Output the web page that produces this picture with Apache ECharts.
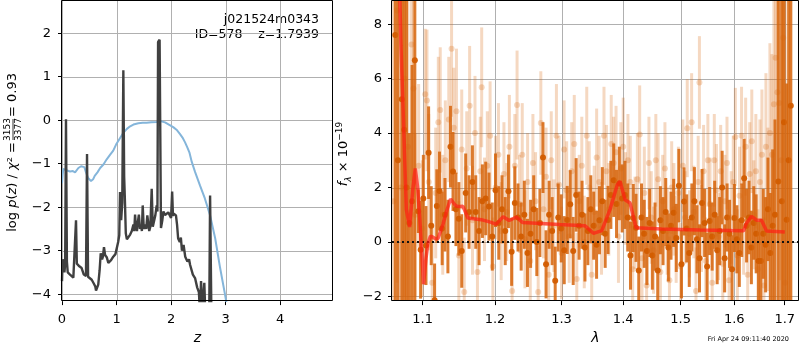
<!DOCTYPE html>
<html>
<head>
<meta charset="utf-8">
<title>redshift fit</title>
<script src="https://cdn.jsdelivr.net/npm/echarts@6/dist/echarts.min.js"></script>
<style>
  body { margin: 0; background: #fff; }
  #main { width: 800px; height: 350px; }
</style>
</head>
<body>
<div id="main"></div>
<script>
// ---------- left panel: log p(z) ----------
var zTicks = [0, 1, 2, 3, 4];
var pzTicks = [-4, -3, -2, -1, 0, 1, 2];

// [z, log p(z)]
var pzCurve = [
  [0.000,-3.70],[0.012,-3.20],[0.030,-3.30],[0.045,-3.50],[0.058,-3.30],[0.073,0.02],[0.090,-3.25],[0.105,-3.50],
  [0.147,-3.55],[0.180,-3.58],[0.208,-3.62],[0.240,-3.62],[0.257,-2.30],[0.272,-3.30],[0.300,-3.30],[0.318,-3.36],
  [0.360,-3.40],[0.400,-3.55],[0.440,-3.58],[0.459,-0.78],[0.478,-3.60],[0.510,-3.62],[0.545,-3.67],[0.580,-3.75],
  [0.610,-3.82],[0.624,-3.92],[0.645,-3.88],[0.665,-3.78],[0.690,-3.45],[0.710,-3.06],[0.735,-3.20],[0.750,-3.14],
  [0.770,-2.92],[0.790,-3.10],[0.820,-3.15],[0.850,-3.28],[0.870,-3.30],[0.900,-3.22],[0.940,-3.14],[0.980,-3.08],
  [1.000,-3.06],[1.030,-2.80],[1.050,-2.65],[1.064,-1.65],[1.085,-2.30],[1.105,-1.90],[1.125,1.15],[1.140,-1.30],
  [1.155,-1.90],[1.170,-2.60],[1.190,-2.74],[1.220,-2.70],[1.250,-2.63],[1.280,-2.55],[1.310,-2.40],[1.325,-2.55],
  [1.340,-2.17],[1.355,-2.45],[1.375,-2.55],[1.390,-2.35],[1.410,-2.17],[1.430,-2.50],[1.450,-2.40],[1.465,-2.55],
  [1.480,-1.96],[1.500,-2.50],[1.520,-2.40],[1.545,-2.50],[1.565,-2.19],[1.585,-2.40],[1.600,-2.55],[1.620,-2.45],
  [1.645,-1.58],[1.665,-2.45],[1.690,-2.42],[1.710,-2.20],[1.737,-1.96],[1.750,-2.10],[1.762,1.80],[1.790,1.85],
  [1.815,-2.48],[1.840,-2.30],[1.860,-2.10],[1.890,-2.18],[1.920,-2.14],[1.950,-2.12],[1.980,-2.10],[2.000,-2.25],
  [2.020,-1.64],[2.035,-2.20],[2.050,-2.15],[2.090,-2.19],[2.110,-2.40],[2.130,-2.72],[2.160,-2.80],[2.180,-2.70],
  [2.200,-3.00],[2.230,-2.87],[2.260,-3.14],[2.300,-3.25],[2.330,-3.20],[2.350,-3.33],[2.400,-3.55],[2.440,-3.63],
  [2.480,-3.85],[2.510,-3.95],[2.530,-4.40],[2.550,-3.70],[2.580,-4.40],[2.610,-3.74],[2.630,-4.50],[2.700,-4.50],
  [2.716,-1.73],[2.740,-4.50],[2.780,-4.80]
];

// [z, log prior]
var priorCurve = [
  [0.000,-1.45],[0.012,-1.25],[0.025,-1.12],[0.080,-1.15],[0.147,-1.18],[0.200,-1.17],[0.240,-1.20],[0.300,-1.10],
  [0.350,-1.06],[0.380,-1.03],[0.410,-1.08],[0.440,-1.20],[0.480,-1.33],[0.532,-1.40],[0.570,-1.36],[0.600,-1.28],
  [0.650,-1.20],[0.700,-1.10],[0.760,-1.02],[0.820,-0.90],[0.880,-0.80],[0.940,-0.70],[1.000,-0.54],[1.060,-0.42],
  [1.125,-0.29],[1.190,-0.20],[1.250,-0.14],[1.310,-0.10],[1.400,-0.07],[1.480,-0.06],[1.550,-0.06],[1.640,-0.05],
  [1.740,-0.04],[1.800,-0.02],[1.890,-0.05],[1.960,-0.10],[2.040,-0.16],[2.100,-0.22],[2.165,-0.32],[2.210,-0.40],
  [2.257,-0.51],[2.300,-0.63],[2.336,-0.74],[2.380,-0.96],[2.440,-1.19],[2.530,-1.50],[2.620,-1.80],[2.716,-2.19],
  [2.810,-2.72],[2.900,-3.40],[2.990,-4.01],[3.050,-4.45]
];

// ---------- right panel: spectrum ----------
var lamTicks = [1.1, 1.2, 1.3, 1.4, 1.5, 1.6, 1.7];
var fluxTicks = [-2, 0, 2, 4, 6, 8];

// [lambda, flux, err] - main spectrum
var specMain = [
  [1.0645,7.60,14],[1.0679,3.00,14],[1.0729,5.24,12],[1.0760,4.12,9],[1.0790,2.00,10],[1.0826,0.70,3.3],[1.0862,1.50,5],
  [1.0898,6.67,12],[1.0944,1.13,0.8],[1.0974,-0.28,1.8],[1.1010,1.60,1.6],[1.1045,-0.13,1.45],[1.1080,3.28,1.7],
  [1.1115,0.60,1.45],[1.1160,-2.14,1.35],[1.1190,1.32,1.35],[1.1226,1.87,1.45],[1.1262,0.50,1.35],[1.1300,1.00,1.35],
  [1.1340,0.20,1.35],[1.1375,3.50,1.5],[1.1410,2.59,1.45],[1.1450,1.20,1.35],[1.1490,0.85,1.35],[1.1530,-0.33,1.35],
  [1.1585,1.80,1.45],[1.1632,1.10,1.35],[1.1679,2.20,1.35],[1.1726,1.10,1.35],[1.1773,0.40,1.25],[1.1820,1.50,1.35],
  [1.1867,1.60,1.35],[1.1914,1.30,1.25],[1.1961,0.20,1.25],[1.2008,1.90,1.35],[1.2055,0.70,1.35],[1.2102,1.20,1.25],
  [1.2149,0.40,1.25],[1.2196,1.86,1.35],[1.2243,-0.36,1.25],[1.2290,1.43,1.35],[1.2337,0.90,1.25],[1.2384,0.20,1.25],
  [1.2431,1.00,1.25],[1.2478,-0.40,1.25],[1.2525,0.30,1.25],[1.2572,1.20,1.25],[1.2619,0.00,1.25],[1.2666,0.70,1.25],
  [1.2713,3.10,1.3],[1.2760,-0.82,1.25],[1.2807,1.00,1.25],[1.2854,0.40,1.25],[1.2901,-1.42,1.25],[1.2948,0.90,1.25],
  [1.2995,0.50,1.25],[1.3042,-0.30,1.25],[1.3089,0.81,1.25],[1.3136,1.39,1.25],[1.3183,-0.33,1.25],[1.3230,1.73,1.35],
  [1.3277,0.60,1.25],[1.3324,1.00,1.25],[1.3371,-0.20,1.25],[1.3418,0.40,1.25],[1.3465,1.20,1.25],[1.3512,0.60,1.25],
  [1.3559,-0.10,1.25],[1.3606,0.80,1.25],[1.3653,1.50,1.25],[1.3700,0.30,1.25],[1.3747,0.81,1.25],[1.3794,1.73,1.25],
  [1.3841,2.27,1.35],[1.3888,1.40,1.25],[1.3935,2.15,1.35],[1.3982,1.60,1.25],[1.4029,1.73,1.25],[1.4076,0.90,1.25],
  [1.4123,-0.50,1.25],[1.4170,0.88,1.25],[1.4217,0.52,1.25],[1.4264,-1.05,1.25],[1.4311,0.90,1.25],[1.4358,0.30,1.25],
  [1.4405,-0.33,1.25],[1.4452,0.70,1.25],[1.4499,-0.50,1.25],[1.4546,0.20,1.25],[1.4593,-1.05,1.25],[1.4640,0.80,1.25],
  [1.4687,0.40,1.25],[1.4734,1.10,1.25],[1.4781,-0.20,1.25],[1.4828,0.60,1.25],[1.4875,1.07,1.25],[1.4922,0.15,1.25],
  [1.4969,2.07,1.35],[1.5016,-0.82,1.25],[1.5063,1.49,1.25],[1.5110,0.50,1.25],[1.5157,-0.40,1.25],[1.5204,0.90,1.25],
  [1.5251,1.50,1.25],[1.5298,0.10,1.25],[1.5345,-0.60,1.25],[1.5392,1.43,1.25],[1.5439,0.70,1.25],[1.5486,-0.90,1.25],
  [1.5533,0.77,1.25],[1.5580,0.20,1.25],[1.5627,1.00,1.25],[1.5674,-0.30,1.25],[1.5721,0.40,1.25],[1.5768,2.00,1.35],
  [1.5815,-0.60,1.25],[1.5862,0.90,1.25],[1.5909,0.30,1.25],[1.5956,-1.00,1.25],[1.6003,0.88,1.25],[1.6050,0.10,1.25],
  [1.6097,-0.40,1.25],[1.6144,0.80,1.35],[1.6191,2.34,1.45],[1.6238,0.60,1.35],[1.6285,0.90,1.35],[1.6332,-0.20,1.35],
  [1.6379,0.70,1.35],[1.6426,0.30,1.45],[1.6473,-0.70,1.45],[1.6520,-0.70,1.55],[1.6567,0.30,1.65],[1.6614,-0.10,1.75],
  [1.6661,1.20,1.9],[1.6708,-0.40,2.2],[1.6755,0.60,2.8],[1.6802,1.00,3.5],[1.6870,2.22,10],[1.6940,1.50,12],
  [1.6985,4.40,14],[1.7040,0.82,5],[1.7080,3.00,14],[1.7125,5.00,14]
];

// [lambda, flux, err] - second, fainter spectrum
var specAlt = [
  [1.0622,1.50,10],[1.0668,8.50,10],[1.0715,2.00,8],[1.0762,6.00,8],[1.0808,3.50,6],[1.0855,7.25,5],[1.0880,5.64,4],
  [1.0902,1.00,3],[1.0948,2.80,3],[1.0995,0.50,2.5],[1.1035,5.43,2.4],[1.1058,5.20,2.6],[1.1082,2.20,2.5],
  [1.1128,-1.50,2.2],[1.1175,1.80,2.4],[1.1210,4.40,2.4],[1.1236,4.85,2.3],[1.1270,1.00,2.2],[1.1305,3.00,2.2],
  [1.1352,4.50,2.3],[1.1390,7.10,2.5],[1.1420,4.20,2.2],[1.1457,4.80,2.3],[1.1490,-0.50,2.0],[1.1530,3.40,2.2],
  [1.1565,-1.84,2.0],[1.1600,2.70,2.1],[1.1640,5.00,2.2],[1.1680,0.80,2.0],[1.1715,4.00,2.1],[1.1750,-1.10,1.9],
  [1.1790,2.60,2.0],[1.1810,5.68,2.2],[1.1850,1.20,1.9],[1.1890,2.80,2.0],[1.1930,3.90,2.0],[1.1970,-0.90,1.8],
  [1.2010,2.00,1.9],[1.2050,3.20,1.9],[1.2090,0.40,1.8],[1.2130,2.50,1.9],[1.2170,1.10,1.8],[1.2210,3.50,1.9],
  [1.2250,-1.80,1.8],[1.2290,2.80,1.9],[1.2323,5.03,2.0],[1.2360,1.40,1.8],[1.2400,3.20,1.9],[1.2440,0.10,1.8],
  [1.2480,2.20,1.8],[1.2520,-0.70,1.8],[1.2560,2.90,1.8],[1.2600,1.50,1.8],[1.2640,-1.84,1.7],[1.2680,4.37,1.9],
  [1.2720,1.20,1.8],[1.2760,2.40,1.8],[1.2800,-1.20,1.7],[1.2840,3.00,1.8],[1.2880,0.60,1.7],[1.2920,3.90,1.9],
  [1.2960,2.10,1.8],[1.3000,-0.40,1.7],[1.3040,3.40,1.8],[1.3080,1.90,1.8],[1.3120,0.20,1.7],[1.3160,2.60,1.8],
  [1.3200,3.60,1.8],[1.3240,-1.36,1.7],[1.3280,1.50,1.7],[1.3320,2.80,1.8],[1.3360,0.00,1.7],[1.3400,3.90,1.8],
  [1.3440,2.00,1.7],[1.3480,-1.20,1.7],[1.3520,1.10,1.7],[1.3560,3.10,1.8],[1.3600,2.20,1.7],[1.3640,0.50,1.7],
  [1.3680,3.90,1.8],[1.3720,2.60,1.7],[1.3760,1.20,1.7],[1.3800,3.60,1.8],[1.3840,2.90,1.7],[1.3880,3.30,1.7],
  [1.3920,0.20,1.7],[1.3960,2.70,1.7],[1.4000,3.50,1.8],[1.4040,1.60,1.7],[1.4080,3.00,1.7],[1.4120,2.20,1.7],
  [1.4160,-1.00,1.6],[1.4200,0.70,1.7],[1.4240,2.30,1.7],[1.4280,3.95,1.8],[1.4320,-0.60,1.6],[1.4360,1.80,1.7],
  [1.4400,-1.60,1.6],[1.4440,2.90,1.7],[1.4480,0.90,1.7],[1.4520,-0.30,1.6],[1.4560,3.00,1.7],[1.4600,2.30,1.7],
  [1.4640,-1.10,1.6],[1.4680,1.50,1.7],[1.4720,2.70,1.7],[1.4760,0.40,1.6],[1.4800,-1.40,1.6],[1.4840,2.00,1.7],
  [1.4880,1.20,1.7],[1.4920,0.10,1.6],[1.4960,1.80,1.7],[1.5000,-0.90,1.6],[1.5040,2.80,1.7],[1.5080,0.90,1.7],
  [1.5120,4.18,1.8],[1.5160,0.30,1.6],[1.5200,4.40,1.8],[1.5240,1.10,1.7],[1.5280,-1.80,1.6],[1.5320,2.20,1.7],
  [1.5343,5.86,1.7],[1.5380,0.50,1.6],[1.5420,2.60,1.7],[1.5460,-0.70,1.6],[1.5500,3.00,1.7],[1.5540,1.40,1.7],
  [1.5580,-1.50,1.6],[1.5620,3.00,1.7],[1.5660,1.90,1.7],[1.5700,0.20,1.6],[1.5740,2.60,1.7],[1.5780,-0.80,1.7],
  [1.5820,1.50,1.7],[1.5860,2.90,1.7],[1.5900,-1.40,1.7],[1.5940,0.90,1.7],[1.5980,2.20,1.7],[1.6020,3.86,1.8],
  [1.6060,-0.50,1.7],[1.6100,1.70,1.8],[1.6140,3.90,1.8],[1.6180,0.60,1.8],[1.6220,3.50,1.8],[1.6260,-1.20,1.8],
  [1.6300,2.50,1.9],[1.6340,3.70,1.9],[1.6380,1.00,2.0],[1.6420,2.60,2.1],[1.6460,-1.00,2.2],[1.6500,2.20,2.3],
  [1.6540,3.20,2.4],[1.6580,-1.60,2.5],[1.6620,3.50,2.7],[1.6660,1.20,3.0],[1.6700,4.00,3.3],[1.6740,3.20,3.7],
  [1.6780,5.06,4.2],[1.6815,6.77,4.8],[1.6850,5.50,5.5],[1.6890,5.10,6.5],[1.6930,3.00,8],[1.6970,7.50,10],
  [1.7010,-1.50,12]
];

// [lambda, flux] - best-fit model
var modelLine = [
  [1.0690,10.5],[1.0718,7.20],[1.0750,4.50],[1.0787,1.20],[1.0830,0.55],[1.0870,1.90],[1.0904,2.70],[1.0935,2.00],
  [1.0960,1.00],[1.1013,-1.55],[1.1045,-0.60],[1.1072,-0.05],[1.1105,0.22],[1.1138,0.18],[1.1170,0.12],[1.1205,0.12],
  [1.1273,0.65],[1.1330,1.20],[1.1376,1.58],[1.1420,1.42],[1.1454,1.32],[1.1500,1.30],[1.1547,1.31],[1.1616,0.88],
  [1.1803,0.82],[1.1946,0.72],[1.2018,0.65],[1.2119,0.93],[1.2207,0.79],[1.2314,0.92],[1.2403,0.72],[1.2973,0.64],
  [1.3368,0.60],[1.3409,0.52],[1.3507,0.32],[1.3644,0.42],[1.3780,1.20],[1.3901,2.10],[1.3946,2.23],[1.4031,1.55],
  [1.4116,1.43],[1.4218,0.52],[1.4663,0.48],[1.5353,0.44],[1.6179,0.41],[1.6238,0.70],[1.6335,0.94],[1.6434,0.80],
  [1.6533,0.80],[1.6633,0.40],[1.7001,0.37]
];

var lamMin = 1.0603, lamMax = 1.7294;

var FONT = 'DejaVu Sans';
var GRIDC = '#b0b0b0';

function minusSign(v) {
  return String(v).replace('-', '\u2212');
}

function crisp(v) {
  return Math.round(v) + 0.5;
}

// errorbar + dot, placed through the axis scales
function errorBars(lineColor, dotColor, lw, r) {
  return function (params, api) {
    var x = api.value(0), y = api.value(1), e = api.value(2);
    var c = api.coord([x, y]);
    var hi = api.coord([x, y + e]);
    var lo = api.coord([x, y - e]);
    return {
      type: 'group',
      children: [
        { type: 'line', shape: { x1: c[0], y1: lo[1], x2: c[0], y2: hi[1] },
          style: { stroke: lineColor, lineWidth: lw } },
        { type: 'circle', shape: { cx: c[0], cy: c[1], r: r },
          style: { fill: dotColor } }
      ]
    };
  };
}

// [x, y, 0] = vertical grid line at x, [x, y, 1] = horizontal at y, [x, y, 2] = axes frame
function gridLine(params, api) {
  var cs = params.coordSys;
  var kind = api.value(2);
  if (kind === 2) {
    return { type: 'rect',
      shape: { x: crisp(cs.x) - 1, y: crisp(cs.y) - 1, width: Math.round(cs.width), height: Math.round(cs.height) },
      style: { stroke: '#000', fill: null, lineWidth: 1 } };
  }
  var c = api.coord([api.value(0), api.value(1)]);
  var shape = kind === 0
    ? { x1: crisp(c[0]), y1: cs.y, x2: crisp(c[0]), y2: cs.y + cs.height }
    : { x1: cs.x, y1: crisp(c[1]), x2: cs.x + cs.width, y2: crisp(c[1]) };
  return { type: 'line', shape: shape, style: { stroke: GRIDC, lineWidth: 1 } };
}

function gridData(xs, ys) {
  var d = [];
  xs.forEach(function (v) { d.push([v, ys[0], 0]); });
  ys.forEach(function (v) { d.push([xs[0], v, 1]); });
  return d;
}

// wavelength is shown on a log scale: plot ln(lambda)
function toLog(list) {
  return list.map(function (d) {
    var out = d.slice();
    out[0] = Math.log(d[0]);
    return out;
  });
}

var lnTicks = lamTicks.map(function (v) { return Math.log(v); });

function baseAxis(extra) {
  var a = {
    type: 'value',
    axisLine: { show: false, onZero: false },
    axisTick: { show: true, inside: false, length: 4, lineStyle: { color: '#000', width: 1 } },
    axisLabel: { color: '#000', fontSize: 13, fontFamily: FONT },
    splitLine: { show: false }
  };
  for (var k in extra) {
    if (typeof extra[k] === 'object' && a[k]) {
      for (var j in extra[k]) a[k][j] = extra[k][j];
    } else {
      a[k] = extra[k];
    }
  }
  return a;
}

var myChart = echarts.init(document.getElementById('main'), null, { renderer: 'canvas' });

var option = {
  animation: false,
  backgroundColor: '#fff',
  textStyle: { fontFamily: FONT },
  grid: [
    { left: 62, top: 1, width: 271, height: 302, show: false },
    { left: 392, top: 1, width: 407, height: 303, show: false }
  ],
  xAxis: [
    baseAxis({
      gridIndex: 0, min: 0, max: 4.97,
      axisTick: { customValues: zTicks },
      axisLabel: { customValues: zTicks, margin: 12, formatter: minusSign },
      name: 'z', nameLocation: 'middle', nameGap: 29,
      nameTextStyle: { fontStyle: 'italic', fontSize: 14, color: '#000', fontFamily: FONT }
    }),
    baseAxis({
      gridIndex: 1, min: Math.log(lamMin), max: Math.log(lamMax),
      axisTick: { customValues: lnTicks },
      axisLabel: { customValues: lnTicks, margin: 12,
        formatter: function (v) { return Math.exp(v).toFixed(1); } },
      name: '\u03bb', nameLocation: 'middle', nameGap: 29,
      nameTextStyle: { fontStyle: 'italic', fontSize: 14, color: '#000', fontFamily: FONT }
    })
  ],
  yAxis: [
    baseAxis({
      gridIndex: 0, min: -4.16, max: 2.74,
      axisTick: { customValues: pzTicks },
      axisLabel: { customValues: pzTicks, margin: 11, formatter: minusSign }
    }),
    baseAxis({
      gridIndex: 1, min: -2.17, max: 8.85,
      axisTick: { customValues: fluxTicks },
      axisLabel: { customValues: fluxTicks, margin: 10, formatter: minusSign }
    })
  ],
  series: [
    {
      type: 'custom', xAxisIndex: 0, yAxisIndex: 0, data: gridData(zTicks, pzTicks),
      silent: true, z: 1, renderItem: gridLine
    },
    {
      type: 'line', xAxisIndex: 0, yAxisIndex: 0, data: priorCurve,
      showSymbol: false, silent: true, z: 2,
      lineStyle: { color: '#84b5da', width: 2 }
    },
    {
      type: 'line', xAxisIndex: 0, yAxisIndex: 0, data: pzCurve,
      showSymbol: false, silent: true, z: 3,
      lineStyle: { color: '#404040', width: 2.4 }
    },
    {
      type: 'custom', xAxisIndex: 0, yAxisIndex: 0, data: [[0, 0, 2]],
      silent: true, z: 8, renderItem: gridLine
    },
    {
      type: 'custom', xAxisIndex: 1, yAxisIndex: 1, data: gridData(lnTicks, fluxTicks),
      silent: true, z: 1, renderItem: gridLine
    },
    {
      type: 'custom', xAxisIndex: 1, yAxisIndex: 1, data: toLog(specAlt),
      clip: true, silent: true, z: 2,
      renderItem: errorBars('rgba(217,104,16,0.26)', 'rgba(217,104,16,0.26)', 3, 3)
    },
    {
      type: 'custom', xAxisIndex: 1, yAxisIndex: 1, data: toLog(specMain),
      clip: true, silent: true, z: 3,
      renderItem: errorBars('rgba(214,100,10,0.85)', 'rgba(210,92,0,0.95)', 3, 3)
    },
    {
      type: 'line', xAxisIndex: 1, yAxisIndex: 1, data: toLog(modelLine),
      showSymbol: false, silent: true, z: 5,
      lineStyle: { color: 'rgba(255,30,20,0.7)', width: 3.5 },
      markLine: {
        silent: true, symbol: ['none', 'none'], label: { show: false },
        lineStyle: { color: '#111', width: 2, type: [2, 3], opacity: 1 },
        data: [{ yAxis: 0 }]
      }
    },
    {
      type: 'custom', xAxisIndex: 1, yAxisIndex: 1, data: [[lnTicks[0], 0, 2]],
      silent: true, z: 8, renderItem: gridLine
    }
  ],
  graphic: [
    { type: 'text', x: 319, y: 20,
      style: { text: 'j021524m0343', align: 'right', verticalAlign: 'middle', fontSize: 12.5, fontFamily: FONT, fill: '#000' } },
    { type: 'text', x: 319, y: 34.5,
      style: { text: 'ID=578    z=1.7939', align: 'right', verticalAlign: 'middle', fontSize: 12.5, fontFamily: FONT, fill: '#000' } },
    {
      type: 'group', x: 13, y: 152, rotation: Math.PI / 2,
      children: [
        { type: 'text', x: 10, y: 0,
          style: {
            text: '{n|log }{i|p}{n|(}{i|z}{n|) / }{i|\u03c7}{n|\u00b2 =}',
            rich: {
              n: { fontSize: 13, fontFamily: FONT, fill: '#000' },
              i: { fontSize: 13, fontFamily: FONT, fontStyle: 'italic', fill: '#000' }
            },
            align: 'right', verticalAlign: 'middle'
          } },
        { type: 'line', shape: { x1: 12, y1: 0, x2: 33, y2: 0 }, style: { stroke: '#000', lineWidth: 0.8 } },
        { type: 'text', x: 22.5, y: -0.5,
          style: { text: '3153', fontSize: 9, fontFamily: FONT, fill: '#000', align: 'center', verticalAlign: 'bottom' } },
        { type: 'text', x: 22.5, y: 0.8,
          style: { text: '3377', fontSize: 9, fontFamily: FONT, fill: '#000', align: 'center', verticalAlign: 'top' } },
        { type: 'text', x: 35, y: 0,
          style: { text: '= 0.93', fontSize: 13, fontFamily: FONT, fill: '#000', align: 'left', verticalAlign: 'middle' } }
      ]
    },
    { type: 'text', x: 344, y: 154, rotation: Math.PI / 2,
      style: {
        text: '{i|f}{sub|\u03bb}{n| \u00d7 10}{sup|\u221219}',
        rich: {
          n: { fontSize: 13, fontFamily: FONT, fill: '#000', lineHeight: 18 },
          i: { fontSize: 13, fontFamily: FONT, fontStyle: 'italic', fill: '#000', lineHeight: 18 },
          sub: { fontSize: 9, fontFamily: FONT, fontStyle: 'italic', fill: '#000', verticalAlign: 'bottom', lineHeight: 18 },
          sup: { fontSize: 9, fontFamily: FONT, fill: '#000', verticalAlign: 'top', lineHeight: 18 }
        },
        align: 'center', verticalAlign: 'middle'
      } },
    { type: 'text', x: 789, y: 339.5,
      style: { text: 'Fri Apr 24 09:11:40 2020', fontSize: 6.5, fontFamily: FONT, fill: '#000', align: 'right', verticalAlign: 'middle' } }
  ]
};

myChart.setOption(option);
</script>
</body>
</html>
